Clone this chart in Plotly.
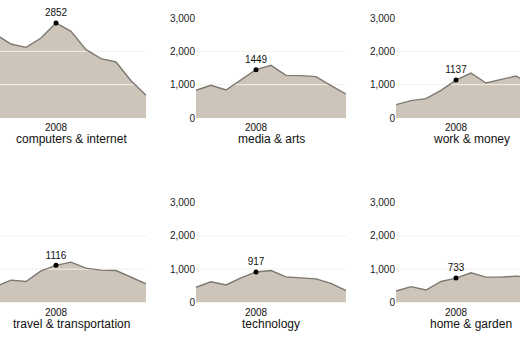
import plotly.graph_objects as go

# ---- data ----
years = [2004, 2005, 2006, 2007, 2008, 2009, 2010, 2011, 2012, 2013, 2014]
highlight_year = 2008
categories = ["computers & internet", "media & arts", "work & money",
              "travel & transportation", "technology", "home & garden"]
computers_internet = [2500, 2220, 2120, 2400, 2852, 2600, 2050, 1780, 1680, 1120, 680]
media_arts = [830, 980, 840, 1150, 1449, 1580, 1280, 1270, 1240, 970, 720]
work_money = [400, 520, 580, 830, 1137, 1350, 1050, 1150, 1260, 1000, 850]
travel_transportation = [480, 670, 630, 950, 1116, 1210, 1030, 970, 960, 760, 560]
technology = [455, 620, 525, 740, 917, 960, 770, 730, 710, 575, 360]
home_garden = [345, 475, 375, 630, 733, 890, 760, 760, 790, 740, 700]
series = [computers_internet, media_arts, work_money,
          travel_transportation, technology, home_garden]
y_ticks = [0, 1000, 2000, 3000]
grid_ticks = [1000, 2000]

# ---- layout geometry (pixels) ----
W, H = 520, 360
panel_w = 150
col_left = [-4, 196, 396]
row_base = [118, 302.5]
row_top = [18, 202.5]
px_per_year = panel_w / (years[-1] - years[0])

FILL = "#cdc5b9"
LINE = "#7b7871"
FONT = "Liberation Sans, Arial, Helvetica, sans-serif"

fig = go.Figure()
annotations = []

for i, (cat, vals) in enumerate(zip(categories, series)):
    r, c = divmod(i, 3)
    n = i + 1
    xa = "x" if n == 1 else f"x{n}"
    ya = "y" if n == 1 else f"y{n}"
    L = col_left[c]
    R = L + panel_w
    vis_l = max(L, 0)
    vis_r = min(R, W)
    x_range = [years[0] + (vis_l - L) / px_per_year,
               years[0] + (vis_r - L) / px_per_year]

    # area fill
    fig.add_trace(go.Scatter(x=years, y=vals, mode="lines", fill="tozeroy",
                             fillcolor=FILL, line=dict(width=0, color=FILL),
                             xaxis=xa, yaxis=ya, hoverinfo="skip",
                             showlegend=False))
    # white grid lines over the area
    for t in grid_ticks:
        fig.add_trace(go.Scatter(x=[years[0], years[-1]], y=[t, t], mode="lines",
                                 line=dict(color="#f3efe9", width=1),
                                 xaxis=xa, yaxis=ya, hoverinfo="skip",
                                 showlegend=False))
    # outline
    fig.add_trace(go.Scatter(x=years, y=vals, mode="lines",
                             line=dict(color=LINE, width=1.4),
                             xaxis=xa, yaxis=ya, hoverinfo="skip",
                             showlegend=False))
    # highlighted point
    hv = vals[years.index(highlight_year)]
    fig.add_trace(go.Scatter(x=[highlight_year], y=[hv], mode="markers+text",
                             marker=dict(color="black", size=5),
                             text=[str(hv)], textposition="top center",
                             textfont=dict(size=10, color="#111", family=FONT),
                             cliponaxis=False,
                             xaxis=xa, yaxis=ya, hoverinfo="skip",
                             showlegend=False))

    xd = [vis_l / W, vis_r / W]
    yd = [(H - row_base[r]) / H, (H - row_top[r]) / H]
    fig.layout[f"xaxis{'' if n == 1 else n}"] = dict(
        domain=xd, range=x_range, showgrid=False, zeroline=False,
        showline=False, ticks="", tickvals=[highlight_year],
        ticktext=[str(highlight_year)], tickfont=dict(size=10, color="#111"),
        ticklabelstandoff=2,
        anchor=ya, automargin=False, fixedrange=True)
    fig.layout[f"yaxis{'' if n == 1 else n}"] = dict(
        domain=yd, range=[0, 3000], showgrid=False, zeroline=False,
        showline=False, ticks="", tickvals=y_ticks, tickformat=",",
        tickfont=dict(size=10, color="#222"),
        showticklabels=(L >= 0),
        anchor=xa, automargin=False, fixedrange=True)

    annotations.append(dict(
        x=years[0] + (years[-1] - years[0]) / 2, xref=xa,
        y=(H - (row_base[r] + 21.5)) / H, yref="paper",
        text=cat, showarrow=False, xanchor="center", yanchor="middle",
        font=dict(size=12, color="#111", family=FONT)))

fig.update_layout(
    width=W, height=H, margin=dict(l=0, r=0, t=0, b=0),
    paper_bgcolor="white", plot_bgcolor="white",
    font=dict(family=FONT, size=10, color="#222"),
    annotations=annotations, showlegend=False, hovermode=False,
)

fig.write_html("out.html",
               config={"displayModeBar": False, "staticPlot": True},
               post_script="document.body.style.margin='0';"
                           "document.body.style.overflow='hidden';")
